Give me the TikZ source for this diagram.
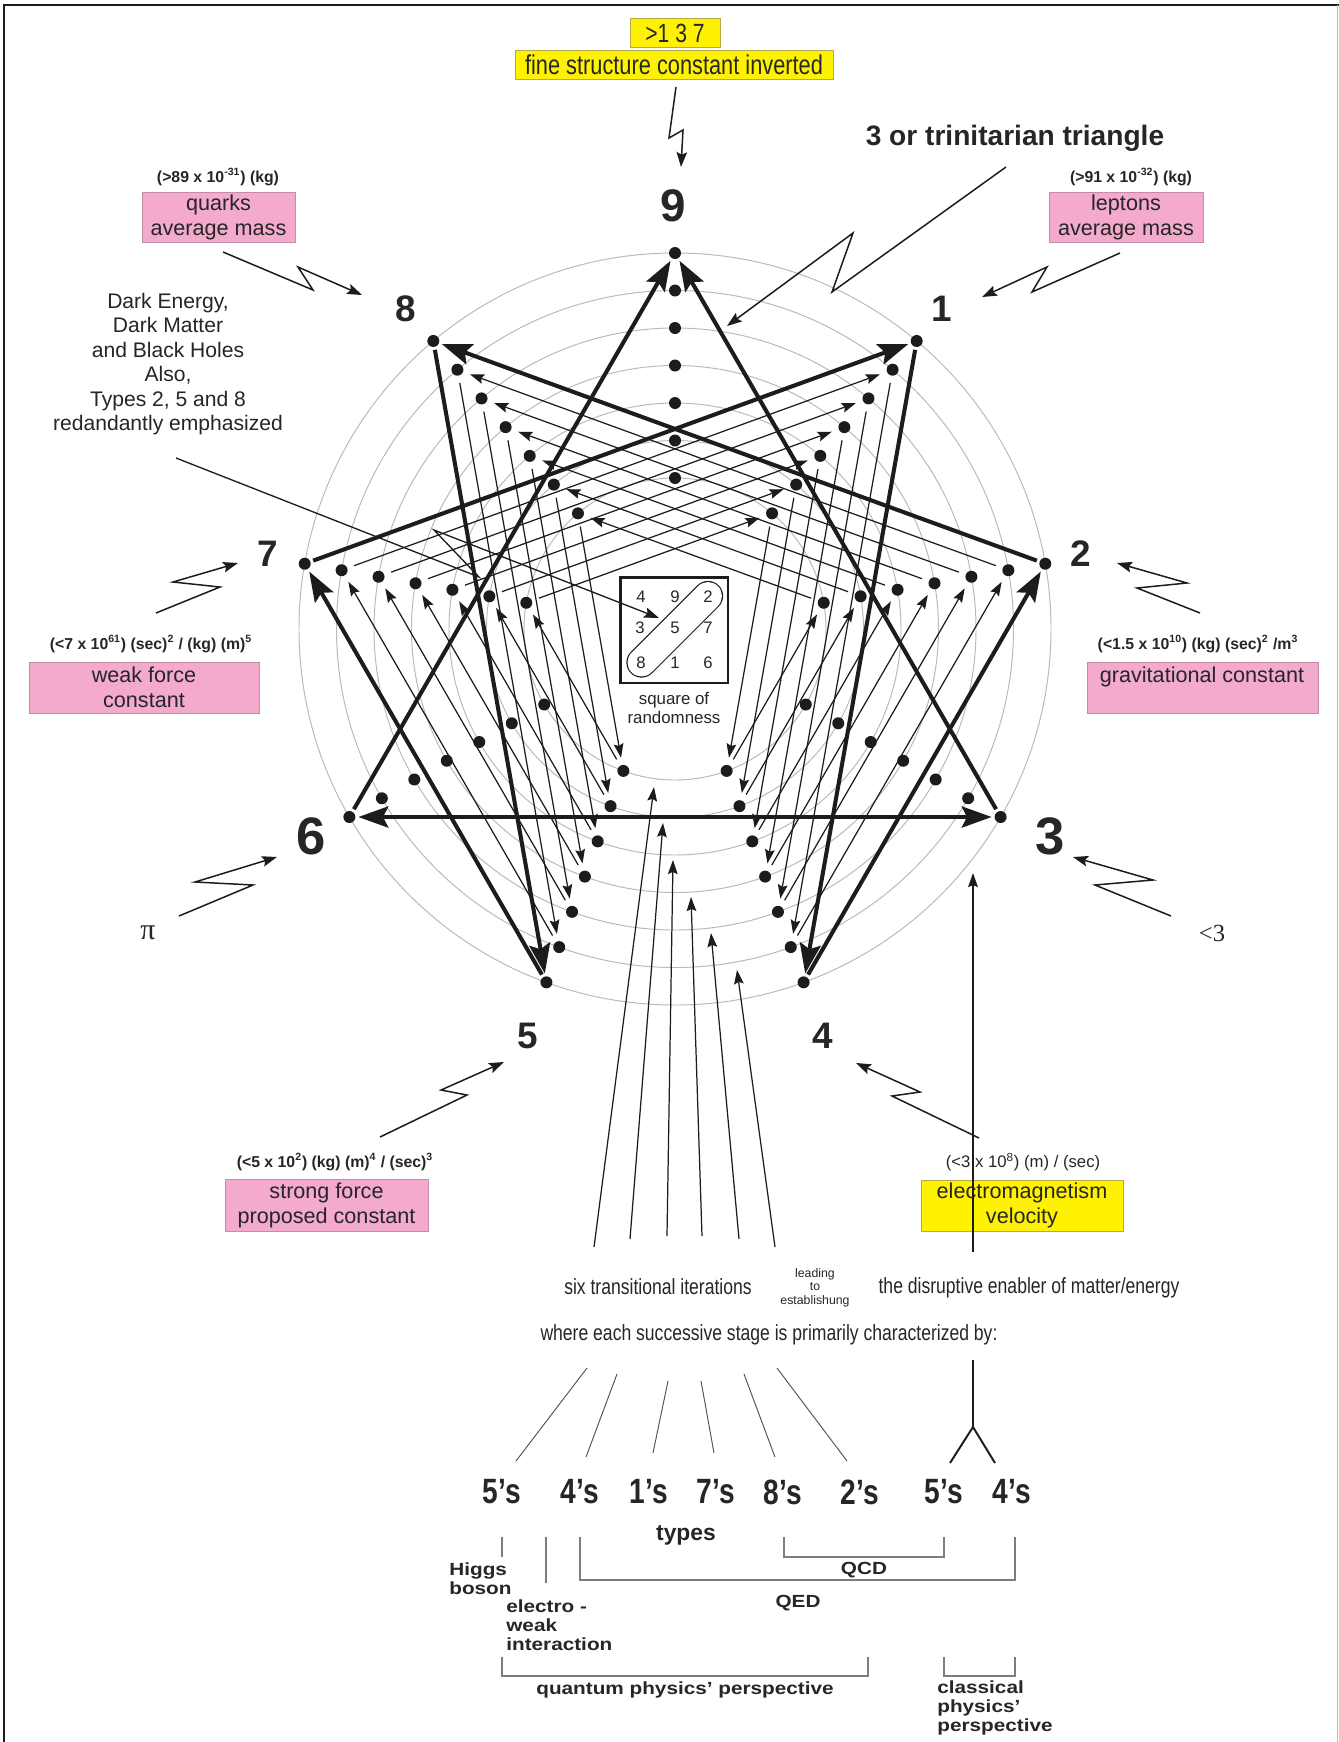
\documentclass[tikz,border=0pt]{standalone}
\usepackage{fontspec}
\setmainfont{Liberation Sans}
\newfontfamily\cond[FakeStretch=0.8]{Liberation Sans}
\newfontfamily\wide[FakeStretch=1.18]{Liberation Sans}
\newfontfamily\serifpi{Liberation Serif}
\usetikzlibrary{arrows.meta,calc}
\pgfdeclarelayer{back}
\pgfdeclarelayer{front}
\pgfsetlayers{back,main,front}
\definecolor{ink}{RGB}{28,28,28}
\definecolor{txt}{RGB}{38,38,38}
\definecolor{ringc}{RGB}{185,185,185}
\definecolor{pinkfill}{RGB}{243,170,204}
\definecolor{pinkline}{RGB}{196,140,168}
\definecolor{yelfill}{RGB}{255,242,0}
\definecolor{yelline}{RGB}{180,170,70}
\definecolor{brk}{RGB}{125,125,125}
\begin{document}
\begin{tikzpicture}[x=0.02cm,y=-0.02cm,
  dot/.style={circle,fill=ink,inner sep=0pt,minimum size=0.24cm},
  ringline/.style={draw=ringc,line width=0.55pt},
  heavy/.style={draw=ink,line width=2.3pt,shorten <=1.5pt,shorten >=1.5pt,-{Stealth[length=17pt,width=12pt,inset=3pt]}},
  heavyboth/.style={draw=ink,line width=2.3pt,shorten <=1.5pt,shorten >=1.5pt,{Stealth[length=17pt,width=12pt,inset=3pt]}-{Stealth[length=17pt,width=12pt,inset=3pt]}},
  light/.style={draw=ink,line width=0.7pt,shorten <=4pt,shorten >=4pt,-{Stealth[length=8pt,width=5.5pt,inset=1.2pt]}},
  zig/.style={draw=ink,line width=0.85pt,-{Stealth[length=8.5pt,width=6pt,inset=1.5pt]}},
  feed/.style={draw=ink,line width=0.7pt,-{Stealth[length=8pt,width=5.5pt,inset=1.2pt]}},
  guide/.style={draw=ink!75,line width=0.55pt},
  fork/.style={draw=ink,line width=1.1pt},
  tick/.style={draw=brk,line width=0.6pt},
  pinkbox/.style={fill=pinkfill,draw=pinkline,line width=0.4pt,inner sep=0pt,align=center,text=black!85,font=\fontsize{12.3}{14.2}\selectfont},
  yelbox/.style={fill=yelfill,draw=yelline,line width=0.4pt,inner sep=0pt,align=center,text=black!85},
  paren/.style={text=txt,font=\bfseries\fontsize{9}{10}\selectfont,inner sep=0pt},
  digit/.style={text=txt,font=\bfseries\fontsize{21}{21}\selectfont,inner sep=0pt},
  bigdigit/.style={text=txt,font=\bfseries\fontsize{30}{30}\selectfont,inner sep=0pt},
  cnd/.style={text=txt,font=\cond\fontsize{12.5}{14}\selectfont,inner sep=0pt},
  typ/.style={text=txt,font=\cond\bfseries\fontsize{20}{21}\selectfont,inner sep=0pt},
  btxt/.style={text=txt,font=\wide\bfseries\fontsize{10}{10.8}\selectfont,inner sep=0pt,align=left},
  sqnum/.style={text=txt,font=\fontsize{9.5}{10}\selectfont,inner sep=0pt},
]
\useasboundingbox (0,0) rectangle (1339,1742);
\begin{pgfonlayer}{back}
\fill[white] (0,0) rectangle (1339,1742);
\coordinate (C) at (675,629);
\foreach \j in {0,...,6}{
  \pgfmathsetmacro\rr{(376-37.5*\j)*0.02}
  \draw[ringline] (C) circle[radius=\rr cm];
}
\end{pgfonlayer}
% frame
\draw[line width=1.5pt,ink] (4,1742) -- (4,5) -- (1339,5);
\draw[line width=0.5pt,ringc] (1337.5,5) -- (1337.5,1742);

% dots
\begin{pgfonlayer}{front}
\foreach \k in {1,...,9}{
  \foreach \j in {0,...,6}{
    \pgfmathsetmacro\r{376-37.5*\j}
    \pgfmathsetmacro\a{40*\k-90}
    \node[dot] (d\k-\j) at ($(C)+(\a:\r)$) {};
  }
}
\end{pgfonlayer}

% inner hexads
\foreach \j in {1,...,6}{
  \foreach \s/\t in {1/4,4/2,2/8,8/5,5/7,7/1}{
    \draw[light] (d\s-\j) -- (d\t-\j);
  }
}
% main enneagram
\foreach \s/\t in {1/4,4/2,2/8,8/5,5/7,7/1,3/9,6/9}{
  \draw[heavy] (d\s-0) -- (d\t-0);
}
\draw[heavyboth] (d6-0) -- (d3-0);

% square of randomness
\node[draw=ink,line width=1.7pt,fill=white,minimum width=2.16cm,minimum height=2.12cm,inner sep=0pt] (sq) at (674,630) {};
\draw[ink,line width=17.2pt,line cap=round] (641.5,662.5) -- (708,596);
\draw[white,line width=15.9pt,line cap=round] (641.5,662.5) -- (708,596);
\node[sqnum] (s4) at (641,597) {4};
\node[sqnum] (s9) at (675,597) {9};
\node[sqnum] (s2) at (708,597) {2};
\node[sqnum] (s3) at (640,628) {3};
\node[sqnum] (s5) at (675,628) {5};
\node[sqnum] (s7) at (708,628) {7};
\node[sqnum] (s8) at (641,663) {8};
\node[sqnum] (s1) at (675,663) {1};
\node[sqnum] (s6) at (708,663) {6};
\node[text=txt,align=center,font=\fontsize{9.6}{10.8}\selectfont,inner sep=0pt] (sqlab) at (674,707.5) {square of\\randomness};

% big labels
\node[digit,font=\bfseries\fontsize{26}{26}\selectfont] (n9) at (673,206) {9};
\node[digit] (n8) at (406,309) {8};
\node[digit] (n1) at (942,309) {1};
\node[digit] (n7) at (268,554) {7};
\node[digit] (n2) at (1081,554) {2};
\node[bigdigit] (n6) at (311,836) {6};
\node[bigdigit] (n3) at (1050,836) {3};
\node[digit] (n5) at (528,1036) {5};
\node[digit] (n4) at (823,1036) {4};

% top boxes
\node[yelbox,minimum width=1.8cm,minimum height=0.58cm,font=\cond\fontsize{15}{15}\selectfont] (alpha) at (675,33) {>1 3 7};
\node[yelbox,minimum width=6.36cm,minimum height=0.58cm,font=\cond\fontsize{15.5}{15.5}\selectfont] (fine) at (674,64.5) {fine structure constant inverted};
\node[text=txt,font=\bfseries\fontsize{16}{16}\selectfont,inner sep=0pt] (tri) at (1015,138) {3 or trinitarian triangle};

\node[paren] (qv) at (218,177) {(>89 x 10\textsuperscript{-31}) (kg)};
\node[pinkbox,minimum width=3.06cm,minimum height=1cm] (quarks) at (218.5,217) {quarks\\average mass};
\node[paren] (lv) at (1131,177) {(>91 x 10\textsuperscript{-32}) (kg)};
\node[pinkbox,minimum width=3.08cm,minimum height=1cm] (leptons) at (1126,217) {leptons\\average mass};

\node[text=txt,align=center,font=\fontsize{12}{13.9}\selectfont,inner sep=0pt] (dark) at (168,364) {Dark Energy,\\Dark Matter\\and Black Holes\\Also,\\Types 2, 5 and 8\\redandantly emphasized};

\node[paren] (wv) at (151,644) {(<7 x 10\textsuperscript{61}) (sec)\textsuperscript{2} / (kg) (m)\textsuperscript{5}};
\node[pinkbox,minimum width=4.6cm,minimum height=1.02cm] (weak) at (144,687.5) {weak force\\constant};
\node[paren] (gv) at (1198,644) {(<1.5 x 10\textsuperscript{10}) (kg) (sec)\textsuperscript{2} /m\textsuperscript{3}};
\node[pinkbox,minimum width=4.62cm,minimum height=1.02cm] (grav) at (1202.5,687.5) {};
\node[text=black!85,font=\fontsize{12.3}{14.2}\selectfont,inner sep=0pt] (gravtxt) at (1202,677) {gravitational constant};

\node[text=txt,font=\serifpi\fontsize{17}{17}\selectfont,inner sep=0pt] (pi) at (148,933) {π};
\node[text=txt,font=\serifpi\fontsize{14}{14}\selectfont,inner sep=0pt] (lt3) at (1212,933) {<3};

\node[paren] (sv) at (335,1162) {(<5 x 10\textsuperscript{2}) (kg) (m)\textsuperscript{4} / (sec)\textsuperscript{3}};
\node[pinkbox,minimum width=4.06cm,minimum height=1.04cm] (strong) at (326.5,1205) {strong force\\proposed constant};
\node[paren,font=\fontsize{9.5}{10}\selectfont] (ev) at (1023,1162) {(<3 x 10\textsuperscript{8}) (m) / (sec)};
\node[yelbox,minimum width=4.04cm,minimum height=1.02cm,font=\fontsize{12.3}{14.2}\selectfont] (em) at (1022,1205.5) {electromagnetism\\velocity};

% lightning pointers
\coordinate (z9s) at (676,87);   \coordinate (z9t) at (681,167);
\draw[zig] (z9s) -- (669,138) -- (683,130) -- (z9t);
\coordinate (ztrs) at (1006,167); \coordinate (ztrt) at (727,326);
\draw[zig] (ztrs) -- (832,292) -- (853,233) -- (ztrt);
\coordinate (z8s) at (223,252); \coordinate (z8t) at (362,295);
\draw[zig] (z8s) -- (313,290) -- (298,267) -- (z8t);
\coordinate (z1s) at (1120,253); \coordinate (z1t) at (982,297);
\draw[zig] (z1s) -- (1032,292) -- (1047,267) -- (z1t);
\coordinate (z7s) at (156,613); \coordinate (z7t) at (238,563);
\draw[zig] (z7s) -- (220,587) -- (173,582) -- (z7t);
\coordinate (z6s) at (179,916); \coordinate (z6t) at (277,857);
\draw[zig] (z6s) -- (253,885) -- (195,882) -- (z6t);
\coordinate (z2s) at (1200,613); \coordinate (z2t) at (1117,563);
\draw[zig] (z2s) -- (1137,588) -- (1187,583) -- (z2t);
\coordinate (z3s) at (1171,916); \coordinate (z3t) at (1073,857);
\draw[zig] (z3s) -- (1095,885) -- (1153,880) -- (z3t);
\coordinate (z5s) at (380,1137); \coordinate (z5t) at (504,1062);
\draw[zig] (z5s) -- (467,1095) -- (441,1090) -- (z5t);
\coordinate (z4s) at (979,1138); \coordinate (z4t) at (856,1063);
\draw[zig] (z4s) -- (892,1096) -- (920,1092) -- (z4t);
\coordinate (zds) at (176,458); \coordinate (zdt) at (659,618);
\draw[zig,line width=0.75pt] (zds) -- (479,577) -- (434,530) -- (zdt);

% feed lines (six transitional iterations)
\foreach \i/\bx/\by/\tx/\ty in {1/594/1247/654/787,2/630/1239/663/823,3/667/1236/673/860,4/702/1236/691/897,5/739/1239/711/933,6/775/1247/737/970}{
  \coordinate (fb\i) at (\bx,\by);
  \coordinate (ft\i) at (\tx,\ty);
  \draw[feed] (fb\i) -- (ft\i);
}
\coordinate (emfoot) at (973,1252); \coordinate (emtop) at (973,873);
\draw[feed,line width=1pt] (emfoot) -- (emtop);

% bottom texts
\node[cnd] (six) at (658,1287) {six transitional iterations};
\node[text=txt,align=center,font=\fontsize{7}{7.7}\selectfont,inner sep=0pt] (lead) at (815,1287.5) {leading\\to\\establishung};
\node[cnd] (disr) at (1029,1288) {the disruptive enabler of matter/energy};
\node[cnd] (where) at (769,1335) {where each successive stage is primarily characterized by:};

% guides to types
\foreach \i/\ax/\ay/\bx/\by in {1/587/1368/516/1461,2/617/1374/586/1457,3/668/1381/653/1453,4/701/1381/714/1453,5/744/1374/775/1457,6/777/1368/847/1461}{
  \coordinate (ga\i) at (\ax,\ay);
  \coordinate (gb\i) at (\bx,\by);
  \draw[guide] (ga\i) -- (gb\i);
}
\coordinate (fk0) at (973,1360); \coordinate (fk1) at (973,1427);
\coordinate (fkL) at (950,1463); \coordinate (fkR) at (995,1463);
\draw[fork] (fk0) -- (fk1) -- (fkL);
\draw[fork] (fk1) -- (fkR);

\foreach \n/\x/\t in {t1/502/5’s,t2/580/4’s,t3/649/1’s,t4/716/7’s,t5/783/8’s,t6/860/2’s,t7/944/5’s,t8/1012/4’s}{
  \node[typ] (\n) at (\x,1492) {\t};
}
\node[text=txt,font=\bfseries\fontsize{13}{13}\selectfont,inner sep=0pt] (types) at (686,1535) {types};

% brackets
\draw[tick] (502,1537) -- (502,1557);
\draw[tick] (546,1537) -- (546,1583);
\draw[tick] (580,1537) -- (580,1580) -- (1015,1580) -- (1015,1537);
\draw[tick] (784,1537) -- (784,1557) -- (944,1557) -- (944,1537);
\draw[tick] (502,1657) -- (502,1676) -- (868,1676) -- (868,1657);
\draw[tick] (944,1657) -- (944,1676) -- (1015,1676) -- (1015,1657);

\node[btxt] (qcd) at (864,1570) {QCD};
\node[btxt] (qed) at (798,1603) {QED};
\node[btxt,anchor=west] (higgs) at (449,1578.5) {Higgs\\boson};
\node[btxt,anchor=west] (ew) at (506,1625) {electro -\\weak\\interaction};
\node[btxt] (qpp) at (685,1690) {quantum physics’ perspective};
\node[btxt,anchor=west] (cpp) at (937,1708) {classical\\physics’\\perspective};
\end{tikzpicture}
\end{document}
